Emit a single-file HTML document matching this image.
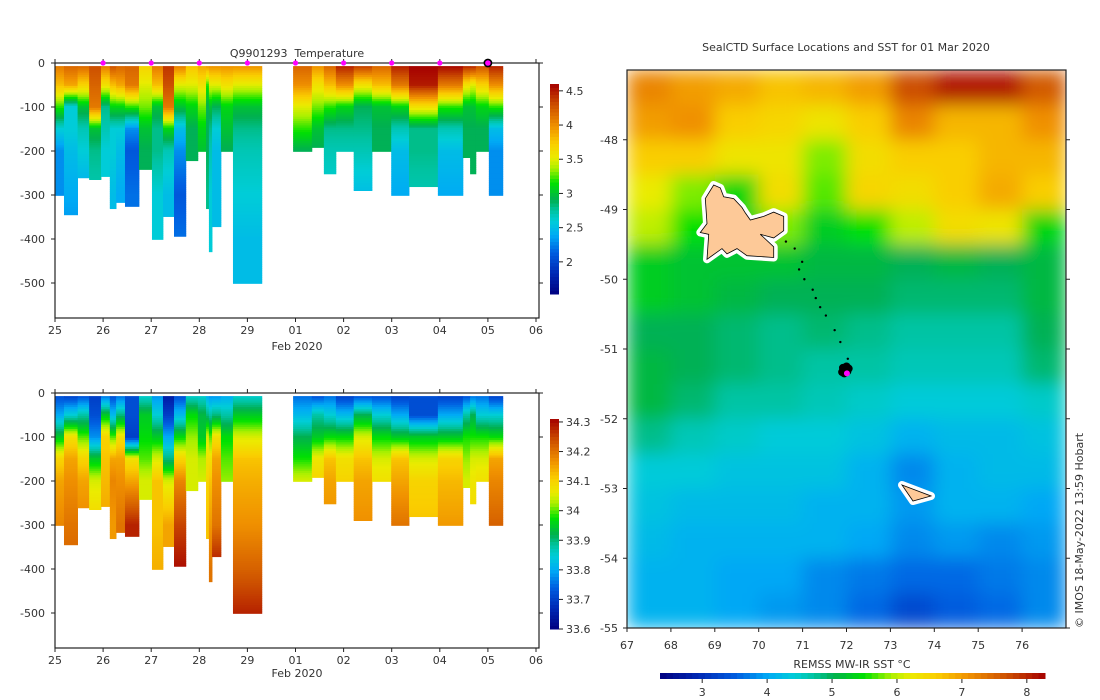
<!DOCTYPE html>
<html><head><meta charset="utf-8">
<style>
html,body{margin:0;padding:0;background:#fff;}
svg{display:block;font-family:"DejaVu Sans","Liberation Sans",sans-serif;}
text{fill:#333;font-size:11px;}
</style></head>
<body>
<svg id="fig" width="1100" height="700" viewBox="0 0 1100 700" xmlns="http://www.w3.org/2000/svg">
<defs>
<filter id="sstblur" x="0" y="0" width="1" height="1"><feGaussianBlur stdDeviation="9" edgeMode="duplicate"/></filter>
<clipPath id="mapclip"><rect x="627" y="70" width="439" height="558"/></clipPath>
</defs>
<g id="tplot"></g>
<g id="splot"></g>
<g id="map"></g>
<text x="297" y="57" text-anchor="middle" font-size="11" xml:space="preserve">Q9901293  Temperature</text>
<text x="846" y="51" text-anchor="middle">SealCTD Surface Locations and SST for 01 Mar 2020</text>
<text x="297" y="350" text-anchor="middle">Feb 2020</text>
<text x="297" y="677" text-anchor="middle">Feb 2020</text>
<text x="852" y="668" text-anchor="middle">REMSS MW-IR SST °C</text>
<text transform="translate(1083,628) rotate(-90)" font-size="10">© IMOS 18-May-2022 13:59 Hobart</text>
</svg>
<script>
// ---------- data ----------
const profStart=[0,0.187,0.47,0.71,0.956,1.14,1.27,1.455,1.746,2.016,2.245,2.474,2.72,2.97,3.14,3.20,3.265,3.45,3.70,4.95,5.34,5.59,5.84,6.21,6.59,6.99,7.36,7.96,8.48,8.63,8.75,9.02];
const profEnd=[0.187,0.47,0.71,0.956,1.14,1.27,1.455,1.746,2.016,2.245,2.474,2.72,2.97,3.14,3.20,3.265,3.45,3.70,4.30,5.34,5.59,5.84,6.21,6.59,6.99,7.36,7.96,8.48,8.63,8.75,9.02,9.31];
const profDepth=[301,345,261,265,258,331,317,326,242,401,349,394,222,201,331,429,372,201,501,201,192,252,201,290,201,301,281,301,215,252,201,301];
const levels=[5,50,100,150,200,300,400,500];
const tempVals=[
[4.1,3.8,3.2,2.6,2.3,2.3],[4.2,3.9,2.6,2.6,2.5,2.4,2.3],[4.2,3.7,3.0,2.7,2.6,2.4],[4.3,4.2,4.1,3.0,2.8,2.7],
[4.1,3.6,2.8,2.7,2.6,2.6],[4.3,3.8,3.1,2.6,2.6,2.5],[4.2,3.9,3.1,2.6,2.5,2.4],[4.2,4.1,3.2,2.3,2.1,2.2],
[3.7,3.5,3.3,3.0,2.9],[4.1,3.8,3.0,2.8,2.8,2.6,2.6],[4.4,4.3,4.1,3.1,2.7,2.5],[4.1,3.5,3.0,2.5,2.3,2.1,2.2],
[3.8,3.5,3.1,2.9,2.9],[3.9,3.6,3.3,3.1,3.0],[4.0,3.2,2.9,2.9,2.9,2.8],[4.0,3.5,3.0,2.8,2.7,2.6,2.6],
[4.0,3.5,2.9,2.6,2.5,2.5],[4.0,3.6,3.1,3.0,2.9],[4.0,3.5,3.0,2.8,2.7,2.6,2.5,2.5],[4.2,4.0,3.5,3.2,2.9],
[4.0,3.6,3.3,3.0,2.9],[4.2,3.8,3.2,2.8,2.7,2.6],[4.5,4.0,3.1,2.8,2.7],[4.4,3.6,2.9,2.8,2.7,2.5],
[4.2,3.8,3.0,2.9,2.9],[4.5,4.1,3.1,2.7,2.5,2.4],[4.6,4.5,3.6,2.8,2.8,2.7],[4.6,4.1,3.2,2.7,2.5,2.4],
[4.5,3.6,3.0,2.9,2.9],[4.5,3.5,3.0,2.9,2.9,2.9],[4.3,3.7,3.1,2.9,2.9],[4.5,4.0,3.2,2.5,2.3,2.3]];
const salVals=[
[33.72,33.8,33.95,34.1,34.15,34.18],[33.7,33.85,34.08,34.15,34.17,34.2,34.22],[33.72,33.88,34.0,34.1,34.15,34.18],[33.7,33.72,33.78,33.95,34.05,34.1],
[33.75,33.95,34.1,34.12,34.13,34.15],[33.72,33.82,34.0,34.15,34.18,34.16],[33.75,33.9,34.08,34.15,34.17,34.2],[33.72,33.72,33.7,34.08,34.15,34.28],
[33.85,33.95,33.97,34.0,34.05],[33.78,33.85,33.95,34.05,34.12,34.12,34.14],[33.65,33.7,33.8,33.9,34.05,34.15],[33.72,33.82,33.97,34.1,34.18,34.25,34.3],
[33.85,33.97,34.02,34.05,34.05],[33.85,33.93,33.95,34.03,34.05],[33.8,33.9,34.05,34.08,34.1,34.12],[33.78,33.88,34.0,34.08,34.12,34.16,34.2],
[33.78,33.9,34.08,34.15,34.17,34.2,34.3],[33.8,33.88,33.97,34.0,34.02],[33.85,33.95,34.05,34.12,34.14,34.17,34.22,34.28],[33.75,33.82,33.92,33.98,34.05],
[33.72,33.88,33.95,34.07,34.1],[33.75,33.85,33.97,34.12,34.15,34.17],[33.7,33.82,33.97,34.08,34.1],[33.72,33.92,34.05,34.12,34.15,34.17],
[33.72,33.85,33.97,34.05,34.08],[33.7,33.8,33.95,34.12,34.15,34.2],[33.72,33.72,33.95,34.05,34.1,34.12],[33.7,33.8,33.95,34.1,34.13,34.16],
[33.72,33.88,33.98,34.02,34.05],[33.75,33.92,33.98,34.05,34.07,34.1],[33.75,33.85,33.98,34.05,34.08],[33.7,33.85,33.97,34.15,34.18,34.22]];
const surfDays=[1,2,3,4,5,6,7,8];
const lastDay=[9];
const dayTickVals=[0,1,2,3,4,5,6,7,8,9,10];
const dayTickLabels=["25","26","27","28","29","01","02","03","04","05","06"];
const depthTicks=[0,-100,-200,-300,-400,-500];
const tempTicks=[2,2.5,3,3.5,4,4.5];
const salTicks=[33.6,33.7,33.8,33.9,34,34.1,34.2,34.3];
const sstLats=[-47,-47.5,-48,-48.5,-49,-49.5,-50,-50.5,-51,-51.5,-52,-52.5,-53,-53.5,-54,-54.5];
const sstLons=[67,68,69,70,71,72,73,74,75,76];
const sstGrid=[
[7.2,7.0,6.9,6.7,6.8,7.0,7.7,8.1,8.1,7.6],
[7.0,7.1,6.6,6.5,6.3,6.6,7.2,6.8,6.8,7.1],
[6.6,6.6,6.3,6.3,5.8,6.4,6.6,6.6,6.8,6.8],
[6.2,5.8,5.4,6.4,5.7,6.5,6.4,6.6,6.9,6.6],
[6.0,5.5,5.3,5.8,5.3,5.5,6.0,6.4,6.3,5.4],
[5.3,5.2,5.2,5.2,5.1,5.1,5.0,5.1,5.0,5.1],
[5.3,5.2,5.1,5.0,5.0,5.0,4.9,4.9,4.9,5.1],
[5.0,5.0,4.9,4.8,4.9,4.8,4.7,4.7,4.7,5.0],
[5.1,5.0,4.9,4.8,4.7,4.7,4.6,4.6,4.6,4.9],
[5.1,4.9,4.7,4.7,4.6,4.5,4.4,4.4,4.4,4.5],
[4.8,4.6,4.5,4.4,4.4,4.3,4.1,4.2,4.2,4.3],
[4.4,4.4,4.3,4.3,4.3,4.1,3.8,4.1,4.2,4.2],
[4.3,4.2,4.2,4.2,4.1,4.1,3.9,4.1,4.1,4.0],
[4.2,4.1,4.1,4.1,4.1,4.0,3.8,3.9,3.8,3.9],
[4.1,4.1,4.0,4.0,3.8,3.7,3.6,3.6,3.7,3.8],
[4.1,4.1,4.0,3.9,3.8,3.6,3.3,3.5,3.6,3.8]];
const trackLon=[70.62,70.82,70.99,70.92,71.04,71.23,71.30,71.40,71.53,71.73,71.86,72.03];
const trackLat=[-49.46,-49.56,-49.75,-49.86,-50.0,-50.15,-50.27,-50.40,-50.52,-50.73,-50.90,-51.14];
const clusterLon=[71.97,71.92,72.02,71.95,72.05,71.9,72.0];
const clusterLat=[-51.30,-51.27,-51.32,-51.35,-51.28,-51.33,-51.25];
const lastLon=[72.01];
const lastLat=[-51.35];
const mapXTicks=[67,68,69,70,71,72,73,74,75,76];
const mapYTicks=[-48,-49,-50,-51,-52,-53,-54,-55];
const sstTicks=[3,4,5,6,7,8];

// ---------- helpers ----------
const NS="http://www.w3.org/2000/svg";
function mk(tag,attrs,parent){const e=document.createElementNS(NS,tag);for(const k in attrs)e.setAttribute(k,attrs[k]);parent.appendChild(e);return e;}
const stops=[[0,[0,0,128]],[0.1,[0,40,180]],[0.2,[0,95,225]],[0.28,[0,170,245]],[0.35,[0,205,215]],[0.4,[0,195,160]],[0.45,[0,176,80]],[0.53,[0,225,0]],[0.6,[170,240,0]],[0.65,[235,235,0]],[0.72,[250,205,0]],[0.8,[240,145,0]],[0.9,[205,80,0]],[1,[165,0,0]]];
function cmap(f){f=Math.max(0,Math.min(1,f));for(let i=1;i<stops.length;i++){if(f<=stops[i][0]){const a=stops[i-1],b=stops[i];const t=(f-a[0])/(b[0]-a[0]);const c=a[1].map((v,j)=>Math.round(v+(b[1][j]-v)*t));return `rgb(${c[0]},${c[1]},${c[2]})`;}}return "rgb(165,0,0)";}
function interp(vals,d){for(let i=1;i<vals.length;i++){if(d<=levels[i]){const t=(d-levels[i-1])/(levels[i]-levels[i-1]);return vals[i-1]+(vals[i]-vals[i-1])*Math.max(0,t);}}return vals[vals.length-1];}

// ---------- section plots ----------
function section(gid,top,vals,vmin,vmax,cbTop,cbBot,ticks,tickFmt,name){
  const g=document.getElementById(gid);
  const L=55,R=539,B=top+255;
  const xS=d=>L+d*48.1;
  const yS=z=>top+z*0.44;
  const cg=mk('g',{},g);
  
  
  for(let p=0;p<profStart.length;p++){
    const pg=mk('g',{},cg);
    
    
    const x0=xS(profStart[p]),x1=xS(profEnd[p]);
    for(let z=7;z<profDepth[p];z+=5){
      const zz=Math.min(z+5,profDepth[p]);
      const v=interp(vals[p],z+2.5);
      mk('rect',{x:x0.toFixed(2),y:yS(z).toFixed(2),width:(x1-x0+0.4).toFixed(2),height:(yS(zz)-yS(z)+0.4).toFixed(2),fill:cmap((v-vmin)/(vmax-vmin))},pg);
    }
  }
  const ax=mk('g',{},g);
  
  
  mk('rect',{x:L,y:top,width:R-L,height:B-top,fill:'none',stroke:'#222','stroke-width':1.2},ax);
  depthTicks.forEach(t=>{const y=yS(-t);mk('line',{x1:L-4,x2:L,y1:y,y2:y,stroke:'#222'},ax);mk('line',{x1:R,x2:R+4,y1:y,y2:y,stroke:'#222'},ax);
    const tx=mk('text',{x:L-10,y:y+4,'text-anchor':'end'},ax);tx.textContent=t;});
  dayTickVals.forEach((d,i)=>{const x=xS(d);mk('line',{x1:x,x2:x,y1:B,y2:B+4,stroke:'#222'},ax);mk('line',{x1:x,x2:x,y1:top-4,y2:top,stroke:'#222'},ax);
    const tx=mk('text',{x:x,y:B+16,'text-anchor':'middle'},ax);tx.textContent=dayTickLabels[i];});
  const cb=mk('g',{},g);
  
  
  const n=60;
  for(let i=0;i<n;i++){const y=cbBot-(i+1)*(cbBot-cbTop)/n;mk('rect',{x:550,y:y.toFixed(2),width:9,height:((cbBot-cbTop)/n+0.5).toFixed(2),fill:cmap((i+0.5)/n)},cb);}
  ticks.forEach(t=>{const y=cbBot-(t-vmin)/(vmax-vmin)*(cbBot-cbTop);mk('line',{x1:559,x2:563,y1:y,y2:y,stroke:'#222'},cb);
    const tx=mk('text',{x:566,y:y+4},cb);tx.textContent=tickFmt(t);});
  return {xS,yS};
}
const tp=section('tplot',63,tempVals,1.53,4.6,84,294,tempTicks,t=>String(t),'temperature');
section('splot',393,salVals,33.6,34.31,419,629,salTicks,t=>String(+t.toFixed(1)),'salinity');
const mg=document.getElementById('tplot');
surfDays.forEach(d=>{const c=mk('circle',{cx:tp.xS(d),cy:63,r:2.6,fill:'#ff00ff'},mg);
  
  });
lastDay.forEach(d=>{const c=mk('circle',{cx:tp.xS(d),cy:63,r:3.6,fill:'#ff00ff',stroke:'#000','stroke-width':1.6},mg);
  
  });

// ---------- map ----------
const mp=document.getElementById('map');
const MX=lon=>627+(lon-67)*43.9;
const MY=lat=>70+(-47-lat)*69.75;
const sg=mk('g',{'clip-path':'url(#mapclip)'},mp);
const sb=mk('g',{filter:'url(#sstblur)'},sg);


for(let r=0;r<sstLats.length;r++)for(let c=0;c<sstLons.length;c++){
  const x0=MX(sstLons[c]),x1=MX(sstLons[c]+1),y0=MY(sstLats[r]),y1=MY(sstLats[r]-0.5);
  const cell=mk('rect',{x:x0,y:y0,width:x1-x0+0.5,height:y1-y0+0.5,fill:cmap((sstGrid[r][c]-2.35)/(8.28-2.35))},sb);
  
  
}
const kerg="713.7,185 720.3,187.9 723.7,196.8 733.7,198.6 742,207.5 745.3,212.9 750.3,220 763.7,216.4 773.7,212.1 783.7,216.4 783.7,230.7 773.7,237.9 760.3,234.3 773.7,246.8 773.7,257.5 747,255.7 737,248.6 727,253.9 722,248.6 707,259.3 708.7,234.3 700.3,232.5 707,223.6 705.3,198.6";
const heard="902,485 931,496 913,501";
[[kerg,'kerguelen-island'],[heard,'heard-island']].forEach(([pts,nm])=>{
  const lg=mk('g',{},sg);
  
  
  mk('polygon',{points:pts,fill:'#fff',stroke:'#fff','stroke-width':8,'stroke-linejoin':'round'},lg);
  mk('polygon',{points:pts,fill:'#fdc998',stroke:'#000','stroke-width':0.8},lg);
});
trackLon.forEach((lo,i)=>{const c=mk('circle',{cx:MX(lo),cy:MY(trackLat[i]),r:1.2,fill:'#000'},sg);
  
  });
clusterLon.forEach((lo,i)=>{const c=mk('circle',{cx:MX(lo),cy:MY(clusterLat[i]),r:4,fill:'#000'},sg);
  
  });
lastLon.forEach((lo,i)=>{const c=mk('circle',{cx:MX(lo),cy:MY(lastLat[i]),r:3,fill:'#ff00ff'},sg);
  
  });
const ma=mk('g',{},mp);


mk('rect',{x:627,y:70,width:439,height:558,fill:'none',stroke:'#222','stroke-width':1.2},ma);
mapXTicks.forEach(t=>{const x=MX(t);mk('line',{x1:x,x2:x,y1:628,y2:632,stroke:'#222'},ma);
  const tx=mk('text',{x:x,y:649,'text-anchor':'middle'},ma);tx.textContent=t;});
mapYTicks.forEach(t=>{const y=MY(t);mk('line',{x1:623,x2:627,y1:y,y2:y,stroke:'#222'},ma);mk('line',{x1:1066,x2:1070,y1:y,y2:y,stroke:'#222'},ma);
  const tx=mk('text',{x:618,y:y+4,'text-anchor':'end'},ma);tx.textContent=t;});
const scb=mk('g',{},mp);


const SX=v=>660+(v-2.35)/(8.28-2.35)*385;
for(let i=0;i<60;i++){const x=660+i*385/60;mk('rect',{x:x.toFixed(2),y:673,width:(385/60+0.5).toFixed(2),height:6,fill:cmap((i+0.5)/60)},scb);}
sstTicks.forEach(t=>{const x=SX(t);mk('line',{x1:x,x2:x,y1:679,y2:683,stroke:'#222'},scb);
  const tx=mk('text',{x:x,y:696,'text-anchor':'middle'},scb);tx.textContent=t;});
</script>
</body></html>
